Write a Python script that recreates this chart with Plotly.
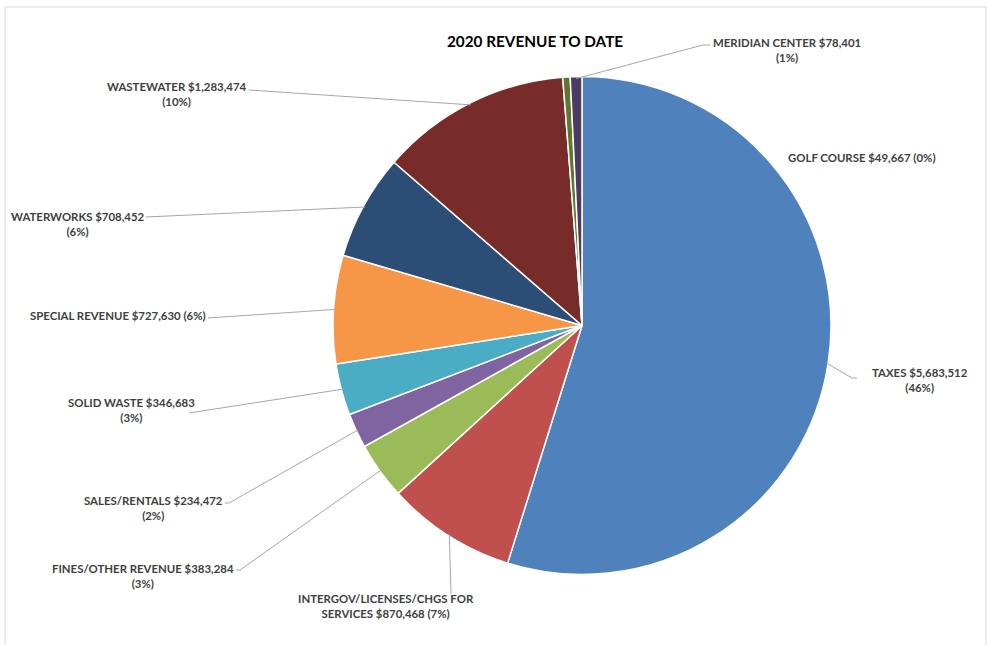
import math
import plotly.graph_objects as go

# ---------------- data ----------------
categories = ["TAXES", "INTERGOV/LICENSES/CHGS FOR<br>SERVICES", "FINES/OTHER REVENUE",
              "SALES/RENTALS", "SOLID WASTE", "SPECIAL REVENUE", "WATERWORKS",
              "WASTEWATER", "GOLF COURSE", "MERIDIAN CENTER"]
values = [5683512, 870468, 383284, 234472, 346683, 727630, 708452, 1283474, 49667, 78401]
pct_labels = [46, 7, 3, 2, 3, 6, 6, 10, 0, 1]
colors = ["#4F81BD", "#C0504D", "#9BBB59", "#8064A2", "#4BACC6", "#F79646",
          "#2C4D75", "#772C2A", "#5F7530", "#4D3B62"]
title_text = "2020 REVENUE TO DATE"

# ---------------- layout constants (pixels) ----------------
W, H = 988, 645
CX, CY, R = 582, 325.5, 249
# whether percentage goes on its own line
pct_newline = [True, False, True, True, True, False, True, True, False, True]
# label block centre (px)
label_pos = [(920, 380), (386, 606), (143, 576), (153, 508), (131, 410),
             (118, 316), (78, 224), (177, 94), (862, 157), (787, 50)]
# leader-line label-side path points (px); None = no leader
leader_end = [[(852, 378), (857, 378)], [(451, 594)], [(240, 570), (236, 570)],
              [(229, 503), (225, 503)], [(189, 413)], [(208, 318)], [(146, 217)],
              [(249, 90)], None, [(703, 45), (710, 45)]]


def px(x):
    return x / W


def py(y):
    return 1 - y / H


fig = go.Figure(go.Pie(
    labels=[c.replace("<br>", " ") for c in categories],
    values=values,
    sort=False,
    direction="clockwise",
    rotation=0,
    textinfo="none",
    hoverinfo="label+value",
    marker=dict(colors=colors, line=dict(color="white", width=1.5)),
    domain=dict(x=[px(CX - R), px(CX + R)], y=[py(CY + R), py(CY - R)]),
    showlegend=False,
))

total = sum(values)
annotations = []
shapes = []
cum = 0
RL = R - 2  # leader lines meet the drawn slice edge
for i, v in enumerate(values):
    mid = (cum + v / 2) / total * 2 * math.pi
    cum += v
    ex = CX + RL * math.sin(mid)
    ey = CY - RL * math.cos(mid)
    sep = "<br>" if pct_newline[i] else " "
    text = f"{categories[i]} ${v:,}{sep}({pct_labels[i]}%)"
    lx, ly = label_pos[i]
    annotations.append(dict(x=px(lx), y=py(ly), xref="paper", yref="paper",
                            text=text, showarrow=False, align="center",
                            xanchor="center", yanchor="middle",
                            font=dict(family="Lato", size=11.4, color="#404040",
                                      weight="bold")))
    if leader_end[i] is not None:
        pts = [(ex, ey)] + leader_end[i]
        path = "M " + " L ".join(f"{px(a):.5f},{py(b):.5f}" for a, b in pts)
        shapes.append(dict(type="path", path=path, xref="paper", yref="paper",
                           line=dict(color="#A6A6A6", width=1)))

annotations.append(dict(x=px(535), y=py(41), xref="paper", yref="paper",
                        text=title_text, showarrow=False, xanchor="center",
                        yanchor="middle",
                        font=dict(family="Lato", size=15.3, color="#000000",
                                  weight="bold")))

# chart frame
shapes.append(dict(type="rect", xref="paper", yref="paper",
                   x0=px(5), x1=px(986), y0=py(660), y1=py(7),
                   line=dict(color="#D9D9D9", width=1), layer="below"))

fig.update_layout(
    width=W, height=H,
    margin=dict(l=0, r=0, t=0, b=0),
    paper_bgcolor="white", plot_bgcolor="white",
    annotations=annotations, shapes=shapes,
)

fig.write_html("out.html")
